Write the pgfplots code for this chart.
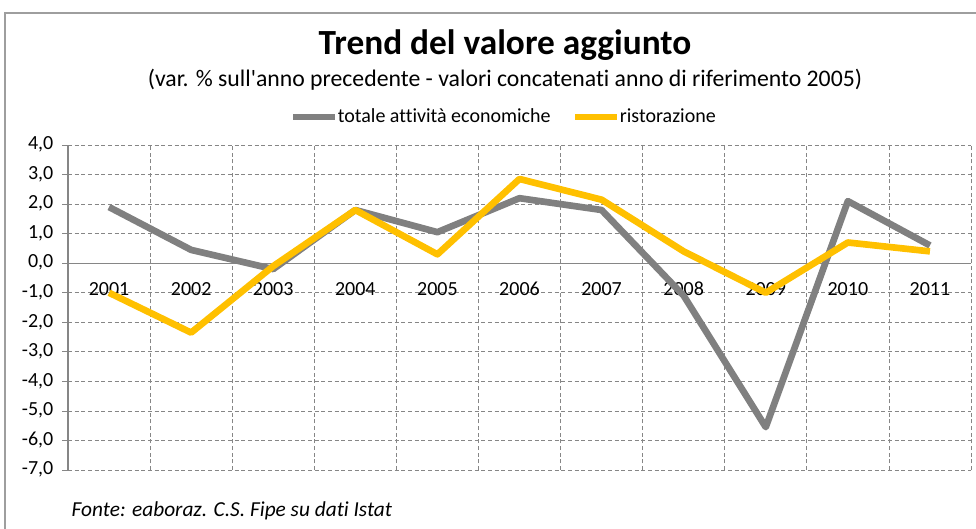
\documentclass[border=0pt]{standalone}
\usepackage{fontspec}
\setmainfont{Carlito}[Ligatures=CommonOff]
\usepackage{pgfplots}
\pgfplotsset{compat=1.18}
\definecolor{tot}{HTML}{808080}
\definecolor{ris}{HTML}{FFC000}
\definecolor{gridc}{HTML}{868686}
\begin{document}
\begin{tikzpicture}
\useasboundingbox (0pt,0pt) rectangle (732pt,-396.75pt);
\begin{scope}[x=0.75pt,y=-0.75pt]
\draw[gridc!80, line width=1.5pt] (5,540) -- (5,13) -- (990,13);
\node[font=\bfseries\fontsize{26.5}{30}\selectfont] at (505,45) {Trend del valore aggiunto};
\node[font=\fontsize{17.8}{21}\selectfont] at (505,80) {(var. \% sull\textquotesingle anno precedente - valori concatenati anno di riferimento 2005)};
\node[anchor=west, font=\itshape\fontsize{16}{19}\selectfont] at (67,511) {Fonte: eaboraz. C.S. Fipe su dati Istat};
\end{scope}
\begin{axis}[
  at={(51pt,-352.5pt)}, anchor=south west,
  scale only axis, width=677.25pt, height=243.75pt,
  xmin=-0.5, xmax=10.5, ymin=-7, ymax=4,
  axis y line*=left, axis x line*=middle,
  axis line style={gridc, line width=0.8pt, -},
  xtick={0,...,10},
  xticklabels={2001,2002,2003,2004,2005,2006,2007,2008,2009,2010,2011},
  major x tick style={draw=none},
  minor xtick={-0.5,0.5,...,10.5},
  minor x tick style={draw=none},
  xminorgrids=true,
  ytick={-7,-6,...,4},
  ymajorgrids=true,
  grid style={gridc, densely dashed, line width=0.5pt},
  minor grid style={gridc, densely dashed, line width=0.5pt},
  tick align=outside,
  major y tick style={gridc, line width=0.6pt},
  major tick length=4.5pt,
  typeset ticklabels with strut,
  tick label style={font=\fontsize{15}{18}\selectfont},
  yticklabel style={xshift=-3pt, /pgf/number format/.cd, fixed, fixed zerofill, precision=1, use comma, assume math mode=true},
  xticklabel style={yshift=-3.5pt},
  legend columns=2,
  legend style={at={(0.483,1)}, anchor=center, yshift=21pt, draw=none, fill=none,
    font=\fontsize{15}{18}\selectfont, inner sep=0pt,
    /tikz/every even column/.append style={column sep=14pt},
    /tikz/every odd column/.append style={column sep=-2pt}},
  legend image code/.code={\draw[#1] (0pt,0pt) -- (31pt,0pt);},
  clip=false,
]
\addplot[tot, line width=5pt, line join=round] coordinates {
(0,1.9) (1,0.45) (2,-0.2) (3,1.8) (4,1.05) (5,2.2) (6,1.8) (7,-1.1) (8,-5.55) (9,2.1) (10,0.6)};
\addlegendentry{totale attività economiche}
\addplot[ris, line width=5pt, line join=round] coordinates {
(0,-1.0) (1,-2.35) (2,-0.1) (3,1.8) (4,0.3) (5,2.85) (6,2.15) (7,0.4) (8,-1.0) (9,0.7) (10,0.4)};
\addlegendentry{ristorazione}
\end{axis}
\end{tikzpicture}
\end{document}
